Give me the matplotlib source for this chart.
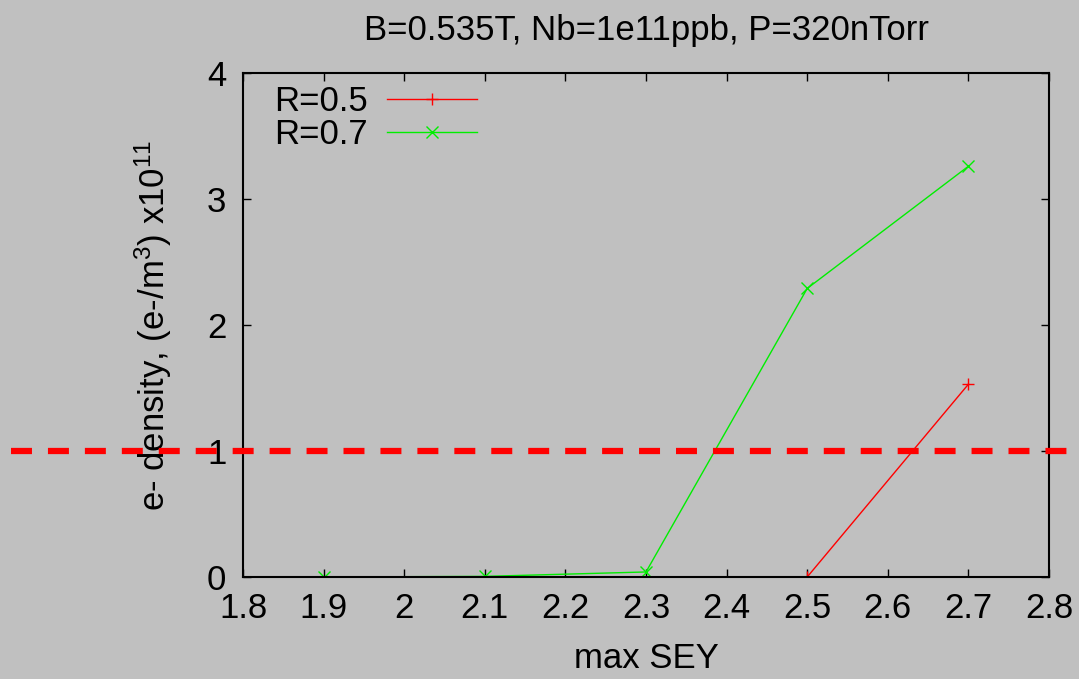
import matplotlib
matplotlib.use('Agg')
import matplotlib.pyplot as plt
from matplotlib.transforms import blended_transform_factory

plt.rcParams['font.family'] = ['Liberation Sans', 'DejaVu Sans']
plt.rcParams['mathtext.fontset'] = 'custom'
plt.rcParams['mathtext.rm'] = 'Liberation Sans'
plt.rcParams['mathtext.it'] = 'Liberation Sans'
plt.rcParams['lines.scale_dashes'] = False

# e-cloud density vs peak SEY for two reflectivity values
sey_05 = [2.5, 2.7]
dens_05 = [0.0, 1.53]
sey_07 = [1.9, 2.1, 2.3, 2.5, 2.7]
dens_07 = [0.0, 0.005, 0.04, 2.29, 3.26]
threshold = 1.0

x_ticks = [1.8, 1.9, 2.0, 2.1, 2.2, 2.3, 2.4, 2.5, 2.6, 2.7, 2.8]
x_tick_labels = ['1.8', '1.9', '2', '2.1', '2.2', '2.3', '2.4', '2.5', '2.6', '2.7', '2.8']
y_ticks = [0, 1, 2, 3, 4]

fs = 25
bg = '#c0c0c0'
fig = plt.figure(figsize=(10.79, 6.79), dpi=100, facecolor=bg)
ax = fig.add_axes([243 / 1079, 1 - 577 / 679, 806 / 1079, 504 / 679], facecolor=bg)

ax.plot(sey_05, dens_05, color='#ff0000', lw=1, marker='+', ms=9, mew=1, label='R=0.5')
ax.plot(sey_07, dens_07, color='#00ee00', lw=1, marker='x', ms=8, mew=1, label='R=0.7')

# threshold line across the whole figure width
tr = blended_transform_factory(fig.transFigure, ax.transData)
ax.plot([11 / 1079, 1.0], [threshold, threshold], transform=tr, color='#ff0000',
        lw=4.5, dashes=(15.1, 11.5), clip_on=False, zorder=10)

ax.set_xlim(1.8, 2.8)
ax.set_ylim(0, 4)
ax.set_xticks(x_ticks)
ax.set_xticklabels(x_tick_labels)
ax.set_yticks(y_ticks)
ax.tick_params(direction='in', length=6, width=1, top=True, right=True,
               labelsize=fs, pad=12)
ax.tick_params(axis='x', pad=11)
for s in ax.spines.values():
    s.set_linewidth(1.5)

ax.set_xlabel('max SEY', fontsize=fs, labelpad=12)
ax.set_ylabel('e- density, (e-/m$^3$) x10$^{11}$', fontsize=fs, labelpad=24)
ax.set_title('B=0.535T, Nb=1e11ppb, P=320nTorr', fontsize=fs, pad=24)

leg = ax.legend(loc='upper left', bbox_to_anchor=(0.013, 1.017), frameon=False, fontsize=fs,
                markerfirst=False, handlelength=2.6, handletextpad=0.55,
                labelspacing=0.0, borderaxespad=0.2)

fig.savefig('out.png', dpi=100, facecolor=bg)
